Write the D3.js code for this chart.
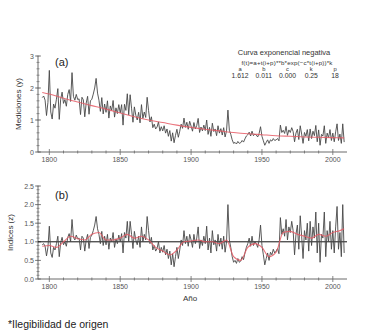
<!DOCTYPE html>
<html>
<head>
<meta charset="utf-8">
<script src="https://cdn.jsdelivr.net/npm/d3@7"></script>
<style>
  body { margin: 0; background: #fff; }
  svg { display: block; font-family: "Liberation Sans", Arial, sans-serif; }
</style>
</head>
<body>
<div id="chart"></div>
<script>
// yearly values, 1795 .. 2008
const firstYear = 1795;

// panel (a): measurements y
const measurements = [
  1.7, 1.75, 1.62, 1.14, 1.55,
  2.55, 1.25, 1.03, 1.5, 1.37, 1.65, 1.98, 1.02, 1.65, 1.87,
  1.52, 1.64, 1.43, 1.8, 1.95, 1.58, 2.48, 1.74, 1.62, 1.8,
  1.64, 1.66, 1.17, 1.71, 1.63, 1.1, 1.53, 1.74, 1.18, 1.6,
  1.65, 1.81, 2.0, 2.3, 1.84, 1.62, 1.27, 1.7, 1.19, 1.5,
  1.24, 1.6, 1.06, 1.44, 1.3, 1.61, 1.09, 1.38, 1.2, 1.48,
  1.22, 1.48, 0.84, 1.49, 1.3, 1.82, 1.16, 1.79, 1.37, 0.93,
  1.41, 1.15, 1.0, 1.24, 0.91, 1.48, 1.05, 1.25, 1.08, 1.71,
  1.3, 0.94, 1.1, 0.76, 0.87, 0.72, 0.78, 0.94, 0.65, 0.79,
  0.66, 0.82, 0.59, 0.72, 0.49, 0.67, 0.34, 0.6, 0.29, 0.52,
  0.71, 0.46, 0.65, 0.87, 0.74, 1.06, 0.77, 0.93, 0.71, 0.96,
  0.81, 0.65, 0.92, 0.72, 0.83, 1.05, 0.61, 0.78, 0.66, 0.84,
  0.67, 1.0, 0.55, 0.77, 0.49, 0.9, 0.64, 0.72, 0.51, 0.82,
  0.59, 0.73, 0.53, 0.76, 0.47, 0.66, 1.31, 0.68, 0.55, 0.38,
  0.27, 0.3, 0.25, 0.33, 0.27, 0.29, 0.36, 0.31, 0.41, 0.5,
  0.54, 0.62, 0.5, 0.65, 0.51, 0.56, 0.53, 0.47, 0.58, 0.79,
  0.49, 0.35, 0.21, 0.3, 0.38, 0.27, 0.38, 0.34, 0.42, 0.36,
  0.38, 0.42, 0.35, 0.84, 0.61, 0.68, 0.58, 0.8, 0.52, 0.69,
  0.61, 0.76, 0.64, 0.32, 0.59, 0.71, 0.39, 0.82, 0.56, 0.27,
  0.61, 0.49, 0.7, 0.35, 0.72, 0.42, 0.65, 0.51, 0.83, 0.32,
  0.69, 0.21, 0.55, 0.5, 0.82, 0.27, 0.59, 0.45, 0.7, 0.36,
  0.59, 0.32, 0.63, 0.88, 0.36, 0.56, 0.27, 0.88, 0.31
];

// panel (b): indices z
const indices = [
  0.92, 0.95, 0.88, 0.62, 0.85,
  1.42, 0.7, 0.58, 0.85, 0.78, 0.95, 1.15, 0.6, 0.98, 1.12,
  0.92, 1.0, 0.88, 1.12, 1.22, 1.0, 1.6, 1.12, 1.05, 1.18,
  1.08, 1.1, 0.78, 1.15, 1.1, 0.75, 1.05, 1.2, 0.82, 1.12,
  1.18, 1.3, 1.45, 1.68, 1.35, 1.2, 0.95, 1.28, 0.9, 1.15,
  0.92, 1.2, 0.8, 1.1, 1.0, 1.25, 0.85, 1.08, 0.95, 1.18,
  1.0, 1.22, 0.7, 1.25, 1.1, 1.55, 1.0, 1.55, 1.2, 0.82,
  1.28, 1.05, 0.92, 1.15, 0.85, 1.4, 1.0, 1.2, 1.05, 1.68,
  1.3, 0.95, 1.12, 0.78, 0.9, 0.75, 0.82, 1.0, 0.7, 0.85,
  0.72, 0.9, 0.65, 0.8, 0.55, 0.75, 0.38, 0.68, 0.33, 0.6,
  0.85, 0.55, 0.78, 1.05, 0.9, 1.3, 0.95, 1.15, 0.88, 1.2,
  1.05, 0.85, 1.2, 0.95, 1.1, 1.4, 0.82, 1.05, 0.9, 1.15,
  0.95, 1.42, 0.78, 1.1, 0.7, 1.3, 0.92, 1.05, 0.75, 1.2,
  0.88, 1.1, 0.8, 1.15, 0.72, 1.0, 2.0, 1.05, 0.85, 0.6,
  0.45, 0.5, 0.42, 0.55, 0.45, 0.48, 0.6, 0.52, 0.7, 0.85,
  0.95, 1.1, 0.88, 1.15, 0.9, 1.0, 0.95, 0.85, 1.05, 1.45,
  0.9, 0.65, 0.38, 0.55, 0.7, 0.5, 0.72, 0.65, 0.8, 0.7,
  0.75, 0.82, 0.68, 1.65, 1.2, 1.35, 1.15, 1.6, 1.05, 1.4,
  1.25, 1.55, 1.3, 0.65, 1.2, 1.45, 0.8, 1.7, 1.15, 0.55,
  1.3, 1.05, 1.5, 0.75, 1.55, 0.9, 1.4, 1.1, 1.8, 0.7,
  1.5, 0.45, 1.2, 1.1, 1.8, 0.6, 1.3, 1.0, 1.55, 0.8,
  1.3, 0.7, 1.4, 1.95, 0.8, 1.25, 0.6, 2.0, 0.7
];

// negative exponential fit (red, panel a)
const fitYears  = [1795, 1800, 1810, 1820, 1830, 1840, 1850, 1860, 1870, 1880, 1890, 1900,
                   1910, 1920, 1930, 1940, 1950, 1960, 1970, 1980, 1990, 2000, 2008];
const fitValues = [1.86, 1.81, 1.68, 1.56, 1.45, 1.34, 1.22, 1.1, 1.0, 0.92, 0.84, 0.77,
                   0.71, 0.66, 0.61, 0.57, 0.54, 0.51, 0.49, 0.47, 0.46, 0.45, 0.44];

// smoothed indices (red, panel b)
const smoothYears  = [1795, 1800, 1805, 1810, 1815, 1820, 1825, 1830, 1835, 1840, 1845, 1850,
                      1855, 1860, 1865, 1870, 1875, 1880, 1885, 1890, 1895, 1900, 1905, 1910,
                      1915, 1920, 1925, 1930, 1935, 1940, 1945, 1950, 1955, 1960, 1965, 1970,
                      1975, 1980, 1985, 1990, 1995, 2000, 2005, 2008];
const smoothValues = [0.88, 0.9, 0.85, 1.0, 1.15, 1.08, 1.05, 1.2, 1.25, 1.05, 1.05, 1.1,
                      1.2, 1.1, 1.15, 1.05, 0.85, 0.75, 0.65, 0.78, 1.0, 1.02, 1.05, 1.0,
                      1.0, 0.95, 1.05, 0.6, 0.5, 0.85, 0.95, 0.85, 0.6, 0.72, 1.25, 1.28,
                      1.2, 1.15, 1.1, 1.2, 1.15, 1.25, 1.3, 1.35];

const paramNames  = ["a", "b", "c", "k", "p"];
const paramValues = ["1.612", "0.011", "0.000", "0.25", "18"];

const width = 368, height = 335;
const svg = d3.select("#chart").append("svg")
  .attr("width", width).attr("height", height);

const x = d3.scaleLinear().domain([1792, 2010]).range([38, 347]);

const lineColor = "#474747";
const redColor = "#e65c66";
const axisColor = "#6a6a6a";
const textColor = "#555";

function drawPanel(opt) {
  const y = d3.scaleLinear().domain(opt.yDomain).range(opt.yRange);
  const g = svg.append("g");
  const y0 = opt.yRange[0];

  // x axis
  g.append("line").attr("x1", x.range()[0]).attr("x2", x.range()[1])
    .attr("y1", y0).attr("y2", y0).attr("stroke", axisColor).attr("stroke-width", 1);
  g.selectAll(".xminor").data(d3.range(1800, 2010, 10)).enter().append("line")
    .attr("x1", d => x(d)).attr("x2", d => x(d))
    .attr("y1", d => d % 50 === 0 ? y0 - 3 : y0 - 1.5)
    .attr("y2", d => d % 50 === 0 ? y0 + 3 : y0 + 1.5)
    .attr("stroke", axisColor).attr("stroke-width", 0.8);
  g.selectAll(".xlab").data(d3.range(1800, 2001, 50)).enter().append("text")
    .attr("x", d => x(d)).attr("y", y0 + 10)
    .attr("text-anchor", "middle").attr("font-size", 7).attr("fill", textColor)
    .text(d => d);

  // y axis
  const xa = x.range()[0];
  g.append("line").attr("x1", xa).attr("x2", xa)
    .attr("y1", opt.yRange[0]).attr("y2", opt.yRange[1])
    .attr("stroke", axisColor).attr("stroke-width", 1);
  g.selectAll(".yminor").data(opt.minorTicks).enter().append("line")
    .attr("x1", xa - 1.5).attr("x2", xa + 1.5)
    .attr("y1", d => y(d)).attr("y2", d => y(d))
    .attr("stroke", axisColor).attr("stroke-width", 0.7);
  g.selectAll(".ymajor").data(opt.majorTicks).enter().append("line")
    .attr("x1", xa - 3).attr("x2", xa + 3)
    .attr("y1", d => y(d)).attr("y2", d => y(d))
    .attr("stroke", axisColor).attr("stroke-width", 0.8);
  g.selectAll(".ylab").data(opt.majorTicks).enter().append("text")
    .attr("x", xa - 4).attr("y", d => y(d) + 2.5)
    .attr("text-anchor", "end").attr("font-size", 7).attr("fill", textColor)
    .text(opt.tickFormat);

  // axis title
  const ym = (opt.yRange[0] + opt.yRange[1]) / 2;
  g.append("text")
    .attr("transform", `translate(${opt.titleX},${ym}) rotate(-90)`)
    .attr("text-anchor", "middle").attr("font-size", 8).attr("fill", "#333")
    .text(opt.yTitle);

  // panel letter
  g.append("text").attr("x", 55).attr("y", opt.letterY)
    .attr("font-size", 11).attr("fill", "#222").text(opt.letter);

  if (opt.refLine !== undefined) {
    g.append("line").attr("x1", x.range()[0]).attr("x2", x.range()[1])
      .attr("y1", y(opt.refLine)).attr("y2", y(opt.refLine))
      .attr("stroke", "#111").attr("stroke-width", 1);
  }

  const series = opt.values.map((v, i) => ({ year: firstYear + i, v }));
  g.append("path").datum(series)
    .attr("fill", "none").attr("stroke", lineColor).attr("stroke-width", 0.9)
    .attr("stroke-linejoin", "round")
    .attr("d", d3.line().x(d => x(d.year)).y(d => y(d.v)));

  const red = opt.redYears.map((yr, i) => ({ year: yr, v: opt.redValues[i] }));
  g.append("path").datum(red)
    .attr("fill", "none").attr("stroke", redColor).attr("stroke-width", 1.1)
    .attr("stroke-opacity", 0.85)
    .attr("d", d3.line().curve(d3.curveMonotoneX).x(d => x(d.year)).y(d => y(d.v)));
}

drawPanel({
  yDomain: [0, 3], yRange: [152, 56],
  majorTicks: [0, 1, 2, 3], minorTicks: d3.range(0, 3.01, 0.2),
  tickFormat: d => d, yTitle: "Mediciones (y)", titleX: 21,
  letter: "(a)", letterY: 66,
  values: measurements, redYears: fitYears, redValues: fitValues
});

drawPanel({
  yDomain: [0, 2.5], yRange: [279, 186],
  majorTicks: [0, 0.5, 1, 1.5, 2, 2.5], minorTicks: d3.range(0, 2.51, 0.1),
  tickFormat: d3.format(".1f"), yTitle: "Indices (z)", titleX: 13,
  letter: "(b)", letterY: 199, refLine: 1,
  values: indices, redYears: smoothYears, redValues: smoothValues
});

// model legend
const leg = svg.append("g").attr("fill", "#333");
leg.append("text").attr("x", 284).attr("y", 55).attr("text-anchor", "middle")
  .attr("font-size", 7.5).text("Curva exponencial negativa");
leg.append("text").attr("x", 287).attr("y", 65).attr("text-anchor", "middle")
  .attr("font-size", 6.2).attr("letter-spacing", 0.15)
  .text("f(t)=a+t(i+p)**b*exp(\u2212c*t(i+p))*k");
const paramX = d3.scalePoint().domain(paramNames).range([240, 335]);
leg.selectAll(".pn").data(paramNames).enter().append("text")
  .attr("x", d => paramX(d)).attr("y", 71).attr("text-anchor", "middle")
  .attr("font-size", 5.8).text(d => d);
leg.selectAll(".pv").data(paramValues).enter().append("text")
  .attr("x", (d, i) => paramX(paramNames[i])).attr("y", 78).attr("text-anchor", "middle")
  .attr("font-size", 6.8).text(d => d);

svg.append("text").attr("x", 190).attr("y", 301).attr("text-anchor", "middle")
  .attr("font-size", 8).attr("fill", "#333").text("Año");

svg.append("text").attr("x", 8).attr("y", 328)
  .attr("font-size", 10.5).attr("fill", "#222").text("*Ilegibilidad de origen");
</script>
</body>
</html>
